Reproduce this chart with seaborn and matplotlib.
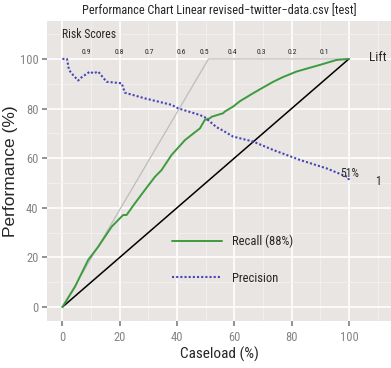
import matplotlib
matplotlib.use("Agg")
import matplotlib.pyplot as plt
from matplotlib import font_manager
import numpy as np
import pandas as pd
import seaborn as sns

# values
recall_x = [0, 4.4, 9, 12.5, 17.2, 21.2, 22.4, 25.3, 28.8, 32.3, 34.6, 38.1, 42.8,
            45.1, 48, 49.7, 51.5, 52.1, 56.1, 56.7, 59.6, 62, 66.6, 69, 73.6, 77,
            81.7, 85, 89.9, 95.7, 100]
recall_y = [0, 8.2, 19, 24.3, 32.4, 37.1, 37.1, 41.8, 47.2, 52.5, 55.2, 61.3, 67.3,
            69.4, 72, 75.4, 76.1, 76.7, 78.1, 78.8, 80.8, 83, 86.2, 87.8, 90.8, 92.7,
            94.9, 96, 97.6, 99.6, 100]
precision_x = [0, 1.6, 2.3, 3.2, 5.5, 6.7, 9.6, 10.8, 12.5, 15.4, 20.7, 21.8, 28.8,
               38.1, 40.4, 48, 49.7, 53.8, 55.6, 59.6, 66.6, 73.6, 82.9, 92.2, 99.8, 100]
precision_y = [100, 100, 95.6, 94.2, 91.3, 92.6, 94.9, 94.2, 94.9, 90.8, 90.2, 86.4, 84.1,
               81.5, 80.1, 77.4, 76.5, 72.5, 71.4, 68.7, 66.7, 63.3, 59.3, 55.9, 52.3, 51]
optimal_x = [0, 51, 100]
optimal_y = [0, 100, 100]
baseline = [0, 100]
risk_scores = ["0.9", "0.8", "0.7", "0.6", "0.5", "0.4", "0.3", "0.2", "0.1"]
risk_x = [8.4, 20, 30.5, 41.6, 49.7, 59.3, 69.3, 80.2, 91.6]


def main():
    sns.set_theme(style="darkgrid", rc={
        "axes.facecolor": "#E8E5E3",
        "grid.color": "white",
        "xtick.major.size": 3.5,
        "ytick.major.size": 3.5,
        "xtick.color": "#858585",
        "ytick.color": "#858585",
        "xtick.bottom": True,
        "ytick.left": True,
    })
    # the reference text is horizontally squeezed; use a narrow face if one exists
    installed = {f.name for f in font_manager.fontManager.ttflist}
    narrow = [f for f in ["Roboto Condensed", "Liberation Sans Narrow",
                          "DejaVu Sans Condensed", "Noto Sans Condensed"] if f in installed]
    squeeze = 1.0 if narrow else 0.85
    plt.rcParams["font.family"] = narrow + ["Liberation Sans"]

    fig = plt.figure(figsize=(3.91, 3.68), dpi=100)
    ax = fig.add_axes([0.120, 0.1285, 0.880, 0.8145])

    sns.lineplot(x=optimal_x, y=optimal_y, ax=ax, color="#BDBDBD", lw=0.9,
                 sort=False, estimator=None)
    sns.lineplot(x=baseline, y=baseline, ax=ax, color="black", lw=1.1,
                 sort=False, estimator=None)
    sns.lineplot(x=recall_x, y=recall_y, ax=ax, color="#3E9B3E", lw=1.4,
                 sort=False, estimator=None, label="Recall (88%)")
    sns.lineplot(x=precision_x, y=precision_y, ax=ax, color="#4545B5", lw=1.5,
                 linestyle=(0, (1, 1)), sort=False, estimator=None, label="Precision")

    ax.set_xlim(-5.4, 114.7)
    ax.set_ylim(-5.5, 115.3)
    ax.set_xticks(range(0, 101, 20))
    ax.set_yticks(range(0, 101, 20))
    ax.set_xticks(range(10, 111, 20), minor=True)
    ax.set_yticks(range(10, 111, 20), minor=True)
    ax.grid(which="major", color="white", lw=1.2)
    ax.grid(which="minor", color="#F3F1F0", lw=0.6)
    ax.tick_params(which="minor", length=0)
    ax.tick_params(axis="x", labelsize=9 * squeeze, pad=4)
    ax.tick_params(axis="y", labelsize=9 * squeeze, pad=2.5)
    for s in ax.spines.values():
        s.set_visible(False)

    ax.set_xlabel("Caseload (%)", fontsize=12.5 * squeeze * 0.88, labelpad=1.5)
    ax.set_ylabel("Performance (%)", fontsize=12.5, family="Liberation Sans", labelpad=1)
    ax.set_title("Performance Chart Linear revised\u2212twitter\u2212data.csv [test]",
                 fontsize=9.5 * squeeze * 0.93, pad=5)

    ax.text(0, 110, "Risk Scores", fontsize=8.5 * squeeze, ha="left", va="center")
    for lab, xv in zip(risk_scores, risk_x):
        ax.text(xv, 102.6, lab, fontsize=5.5, ha="center", va="center")
    ax.text(110, 100.5, "Lift", fontsize=9.5, ha="center", va="center")
    ax.text(110.2, 50.5, "1", fontsize=8.5, ha="center", va="center")
    ax.text(100.1, 54, "51%", fontsize=8.5 * squeeze, ha="center", va="center")

    ax.legend(loc="center left", bbox_to_anchor=(0.364, 0.204), frameon=False,
              borderpad=0, borderaxespad=0, handlelength=3.95, handletextpad=0.8,
              labelspacing=1.9, fontsize=9 * squeeze)

    fig.savefig("out.png", dpi=100)


if __name__ == "__main__":
    main()
